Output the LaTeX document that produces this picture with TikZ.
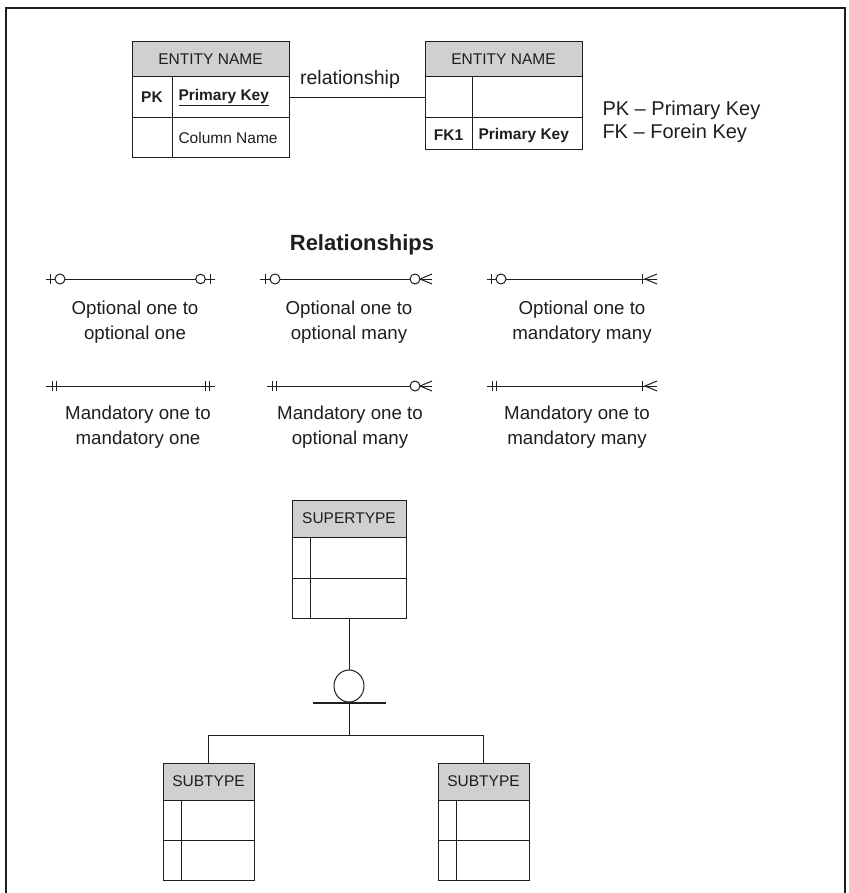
\documentclass[tikz,border=0pt]{standalone}
\usepackage{fontspec}
\setmainfont{Liberation Sans}
\usetikzlibrary{shapes.geometric}
\definecolor{hdrgray}{RGB}{208,208,208}
\definecolor{ink}{RGB}{30,30,30}
\begin{document}
\begin{tikzpicture}[x=1pt,y=-1pt,color=ink,line width=1pt,
  cell/.style={draw=ink,line width=1pt,rectangle,inner sep=0pt},
  hdr/.style={cell,fill=hdrgray,font=\fontsize{15.5}{18}\selectfont},
  etext/.style={inner sep=0pt,font=\fontsize{15.5}{18}\selectfont},
  ektext/.style={inner sep=0pt,font=\fontsize{15.5}{18}\selectfont\bfseries},
  caption/.style={align=center,inner sep=0pt,font=\fontsize{18.7}{25}\selectfont},
  legend/.style={anchor=west,inner sep=0pt,font=\fontsize{20}{23}\selectfont}]
\useasboundingbox (0,0) rectangle (848,893);

% outer frame
\draw[line width=2pt] (6,893) -- (6,8) -- (845,8) -- (845,893);

% ---- first entity ----
\node[hdr,minimum width=157pt,minimum height=35pt] (e1h) at (210.5,59.5) {ENTITY NAME};
\node[cell,minimum width=157pt,minimum height=41pt] (e1r1) at (210.5,97.5) {};
\node[cell,minimum width=157pt,minimum height=40pt] (e1r2) at (210.5,138) {};
\draw (172,77) -- (172,158);
\node[ektext] (e1pk) at (152,97.5) {PK};
\node[ektext,anchor=west] (e1pkn) at (178,97.5) {\underline{Primary Key}};
\node[etext,anchor=west] (e1col) at (178,138) {Column Name};

% ---- second entity ----
\node[hdr,minimum width=157pt,minimum height=35pt] (e2h) at (503.5,59.5) {ENTITY NAME};
\node[cell,minimum width=157pt,minimum height=41pt] (e2r1) at (503.5,97.5) {};
\node[cell,minimum width=157pt,minimum height=32pt] (e2r2) at (503.5,134) {};
\draw (472,77) -- (472,150);
\node[ektext] (e2fk) at (448.5,135) {FK1};
\node[ektext,anchor=west] (e2fkn) at (478,135) {Primary Key};

% relationship between the two entities
\draw (e1r1.east) -- (e2r1.west);
\node[inner sep=0pt,font=\fontsize{19.5}{23}\selectfont] (rel) at (350,79) {relationship};

% key legend
\node[legend] (lpk) at (602,110) {PK -- Primary Key};
\node[legend] (lfk) at (602,133) {FK -- Forein Key};

% ---- relationship notation ----
\node[inner sep=0pt,font=\fontsize{22}{26}\selectfont\bfseries] (title) at (362,245) {Relationships};

% optional one to optional one
\draw (46,279) -- (215,279);
\draw (50,274) -- (50,284);
\draw[fill=white] (60,279) circle (5);
\draw[fill=white] (200.5,279) circle (4.8);
\draw (210,274) -- (210,284);
\node[caption] (c11) at (135,322.5) {Optional one to\\optional one};

% optional one to optional many
\draw (260,279) -- (432,279);
\draw (265,274) -- (265,284);
\draw[fill=white] (275,279) circle (5);
\draw[fill=white] (415,279) circle (5);
\draw (432,274) -- (420,279) -- (432,284);
\node[caption] (c12) at (349,322.5) {Optional one to\\optional many};

% optional one to mandatory many
\draw (487,279) -- (657,279);
\draw (491,274) -- (491,284);
\draw[fill=white] (501,279) circle (5);
\draw (642,274) -- (642,284);
\draw (657,274) -- (645,279) -- (657,284);
\node[caption] (c13) at (582,322.5) {Optional one to\\mandatory many};

% mandatory one to mandatory one
\draw (46,386) -- (215,386);
\draw (52,381) -- (52,391);
\draw (56,381) -- (56,391);
\draw (205,381) -- (205,391);
\draw (209,381) -- (209,391);
\node[caption] (c21) at (138,427.5) {Mandatory one to\\mandatory one};

% mandatory one to optional many
\draw (267,386) -- (432,386);
\draw (272,381) -- (272,391);
\draw (276,381) -- (276,391);
\draw[fill=white] (415,386) circle (5);
\draw (432,381) -- (420,386) -- (432,391);
\node[caption] (c22) at (350,427.5) {Mandatory one to\\optional many};

% mandatory one to mandatory many
\draw (487,386) -- (657,386);
\draw (492,381) -- (492,391);
\draw (496,381) -- (496,391);
\draw (642,381) -- (642,391);
\draw (657,381) -- (645,386) -- (657,391);
\node[caption] (c23) at (577,427.5) {Mandatory one to\\mandatory many};

% ---- supertype / subtype ----
\node[hdr,minimum width=114pt,minimum height=37pt] (suph) at (349,518.5) {SUPERTYPE};
\node[cell,minimum width=114pt,minimum height=41pt] (supr1) at (349,557.5) {};
\node[cell,minimum width=114pt,minimum height=40pt] (supr2) at (349,598) {};
\draw (310,537) -- (310,618);

\node[ellipse,draw=ink,line width=1pt,minimum width=30pt,minimum height=32pt,inner sep=0pt] (disc) at (349,686) {};
\draw (supr2.south) -- (disc.north);
\coordinate (barl) at (313,703);
\coordinate (barr) at (386,703);
\draw[line width=1.3pt] (barl) -- (barr);
\coordinate (jn) at (349,735);
\draw (disc.south) -- (jn);

\node[hdr,minimum width=91pt,minimum height=37pt] (s1h) at (208.5,781.5) {SUBTYPE};
\node[cell,minimum width=91pt,minimum height=40pt] (s1r1) at (208.5,820) {};
\node[cell,minimum width=91pt,minimum height=40pt] (s1r2) at (208.5,860) {};
\draw (181,800) -- (181,880);

\node[hdr,minimum width=91pt,minimum height=37pt] (s2h) at (483.5,781.5) {SUBTYPE};
\node[cell,minimum width=91pt,minimum height=40pt] (s2r1) at (483.5,820) {};
\node[cell,minimum width=91pt,minimum height=40pt] (s2r2) at (483.5,860) {};
\draw (456,800) -- (456,880);

\draw (jn) -| (s1h.north);
\draw (jn) -| (s2h.north);
\end{tikzpicture}
\end{document}
